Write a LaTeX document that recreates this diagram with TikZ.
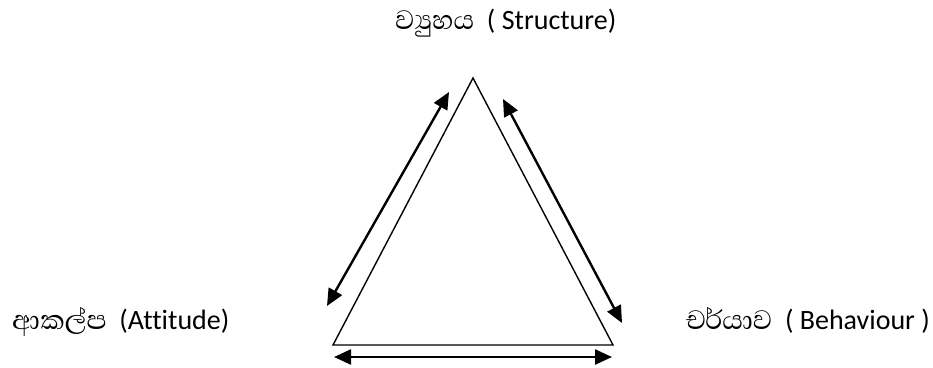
\documentclass[tikz,border=0pt]{standalone}
\usepackage{fontspec}
\setmainfont{Carlito}[Ligatures=NoCommon]
\newfontfamily\sinhfont[Script=Sinhala,Scale=1.22]{Abhaya Libre}
\usetikzlibrary{arrows.meta}
\tikzset{
  tri/.style={line width=1.4pt, line join=miter},
  dblarrow/.style={line width=2.4pt, {Triangle[length=17pt,width=15pt]}-{Triangle[length=17pt,width=15pt]}},
  lbl/.style={inner sep=0pt, font=\fontsize{28}{32}\selectfont}
}
\begin{document}
\begin{tikzpicture}[x=1pt,y=-1pt]
\useasboundingbox (0,0) rectangle (933,367);
% triangle corners
\coordinate (A) at (473,78);
\coordinate (B) at (333,345);
\coordinate (C) at (613,345);
\draw[tri] (A) -- (B) -- (C) -- cycle;
% arrow ends
\coordinate (l1) at (327,306);
\coordinate (l2) at (449,92);
\coordinate (r1) at (503,99);
\coordinate (r2) at (622,323);
\coordinate (b1) at (334,357);
\coordinate (b2) at (612,357);
\draw[dblarrow] (l1) -- (l2);
\draw[dblarrow] (r1) -- (r2);
\draw[dblarrow] (b1) -- (b2);
% labels
\node[lbl, anchor=base west] (top) at (395,29) {{\sinhfont ව්‍යුහය}\ \ ( Structure)};
\node[lbl, anchor=base west] (left) at (12,329) {{\sinhfont ආකල්ප}\ \ (Attitude)};
\node[lbl, anchor=base east] (right) at (930,329) {{\sinhfont චර්යාව}\ \ ( Behaviour )};
\end{tikzpicture}
\end{document}
